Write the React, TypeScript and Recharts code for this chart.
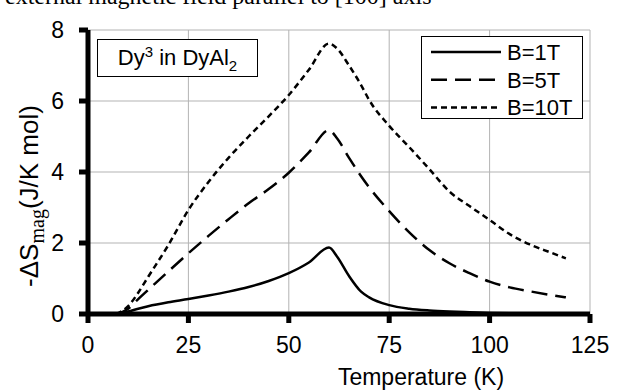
import { CartesianGrid, Legend, Line, LineChart, XAxis, YAxis } from 'recharts'

// temperature grid (K) and -ΔS_mag (J/K mol)
const temps = [7, 10, 12.5, 15, 20, 25, 30, 35, 40, 45, 50, 55, 60, 62, 65, 68, 70, 75, 80, 85, 90, 95, 100, 105, 110, 115, 119]
const b1 = [0, 0.07, 0.15, 0.22, 0.33, 0.42, 0.52, 0.63, 0.76, 0.93, 1.15, 1.45, 1.87, 1.62, 1.07, 0.63, 0.47, 0.25, 0.15, 0.1, 0.07, 0.05, 0.03, 0.02, 0.015, 0.01, 0.005]
const b5 = [0, 0.15, 0.42, 0.68, 1.2, 1.71, 2.2, 2.67, 3.12, 3.52, 3.98, 4.55, 5.18, 4.95, 4.4, 3.88, 3.57, 2.9, 2.3, 1.8, 1.43, 1.15, 0.91, 0.75, 0.64, 0.54, 0.47]
const b10 = [0, 0.22, 0.6, 1.05, 1.94, 2.93, 3.72, 4.4, 5.0, 5.57, 6.17, 6.88, 7.62, 7.48, 7.0, 6.45, 6.03, 5.3, 4.7, 4.08, 3.45, 3.04, 2.65, 2.25, 1.96, 1.74, 1.57]

const xTicks = [0, 25, 50, 75, 100, 125]
const yTicks = [0, 2, 4, 6, 8]

const data = temps.map((t, i) => ({ t, b1: b1[i], b5: b5[i], b10: b10[i] }))

const SERIES = [
  { key: 'b1', label: 'B=1T', dash: undefined as string | undefined },
  { key: 'b5', label: 'B=5T', dash: '16 8' },
  { key: 'b10', label: 'B=10T', dash: '6 4' },
]

const SANS = 'Arial, "Liberation Sans", sans-serif'
const SERIF = '"Times New Roman", "Liberation Serif", serif'

function LegendBox() {
  return (
    <div
      style={{
        width: 160,
        height: 81,
        border: '1px solid #000',
        background: '#fff',
        fontFamily: SANS,
        fontSize: 22,
      }}
    >
      <svg width={160} height={81} style={{ overflow: 'visible' }}>
        {SERIES.map((s, i) => {
          const y = 15 + i * 27.7
          return (
            <g key={s.key}>
              <line x1={9} x2={79} y1={y} y2={y} stroke="#000" strokeWidth={2.5} strokeDasharray={s.dash} />
              <text x={85} y={y} dy="0.36em" fill="#000" fontSize={22} fontFamily={SANS}>
                {s.label}
              </text>
            </g>
          )
        })}
      </svg>
    </div>
  )
}

function YTitle() {
  const cx = 38
  const cy = 196
  return (
    <text
      x={cx}
      y={cy}
      transform={`rotate(-90, ${cx}, ${cy})`}
      textAnchor="middle"
      fill="#000"
      fontFamily={SANS}
      fontSize={26}
    >
      -ΔS
      <tspan fontFamily={SERIF} fontSize={20} dy={6}>
        mag
      </tspan>
      <tspan dy={-6}>(J/K mol)</tspan>
    </text>
  )
}

export default function App() {
  return (
    <div style={{ position: 'absolute', left: 0, top: 0, width: 625, height: 390, background: '#fff', overflow: 'hidden' }}>
      <div
        style={{
          position: 'absolute',
          left: 5,
          top: -16,
          fontFamily: SERIF,
          fontSize: 24,
          lineHeight: '24px',
          whiteSpace: 'nowrap',
          color: '#000',
        }}
      >
        external magnetic field parallel to [100] axis
      </div>
      <LineChart width={625} height={390} data={data} margin={{ top: 30, right: 35, left: 0, bottom: 30 }}>
        <CartesianGrid stroke="#b3b3b3" strokeWidth={1} />
        <XAxis
          dataKey="t"
          type="number"
          domain={[0, 125]}
          ticks={xTicks}
          interval={0}
          height={46}
          axisLine={{ stroke: '#000', strokeWidth: 5 }}
          tickLine={{ stroke: '#000', strokeWidth: 5 }}
          tickSize={9}
          tickMargin={14}
          tick={{ fill: '#000', fontSize: 23, fontFamily: SANS }}
          label={{
            value: 'Temperature (K)',
            position: 'insideBottom',
            offset: -25,
            dx: 82,
            fill: '#000',
            fontSize: 23,
            fontFamily: SANS,
          }}
        />
        <YAxis
          type="number"
          domain={[0, 8]}
          ticks={yTicks}
          interval={0}
          width={88}
          axisLine={{ stroke: '#000', strokeWidth: 5 }}
          tickLine={{ stroke: '#000', strokeWidth: 5 }}
          tickSize={9}
          tickMargin={15}
          tick={{ fill: '#000', fontSize: 23, fontFamily: SANS }}
          label={<YTitle />}
        />
        <Legend
          layout="vertical"
          verticalAlign="middle"
          align="center"
          content={() => <LegendBox />}
          wrapperStyle={{ position: 'absolute', top: 36, left: 421, width: 162, height: 83 }}
        />
        {SERIES.map((s) => (
          <Line
            key={s.key}
            dataKey={s.key}
            name={s.label}
            type="monotone"
            stroke="#000"
            strokeWidth={2.5}
            strokeDasharray={s.dash}
            dot={false}
            activeDot={false}
            isAnimationActive={false}
          />
        ))}
      </LineChart>
      <div
        style={{
          position: 'absolute',
          left: 97,
          top: 39,
          width: 159,
          height: 36,
          border: '1px solid #000',
          background: '#fff',
          fontFamily: SANS,
          fontSize: 22,
          lineHeight: '36px',
          textAlign: 'center',
          color: '#000',
        }}
      >
        Dy<sup style={{ fontSize: 15, verticalAlign: 0, position: 'relative', top: -8 }}>3</sup> in DyAl
        <sub style={{ fontSize: 15, verticalAlign: 0, position: 'relative', top: 6 }}>2</sub>
      </div>
    </div>
  )
}
